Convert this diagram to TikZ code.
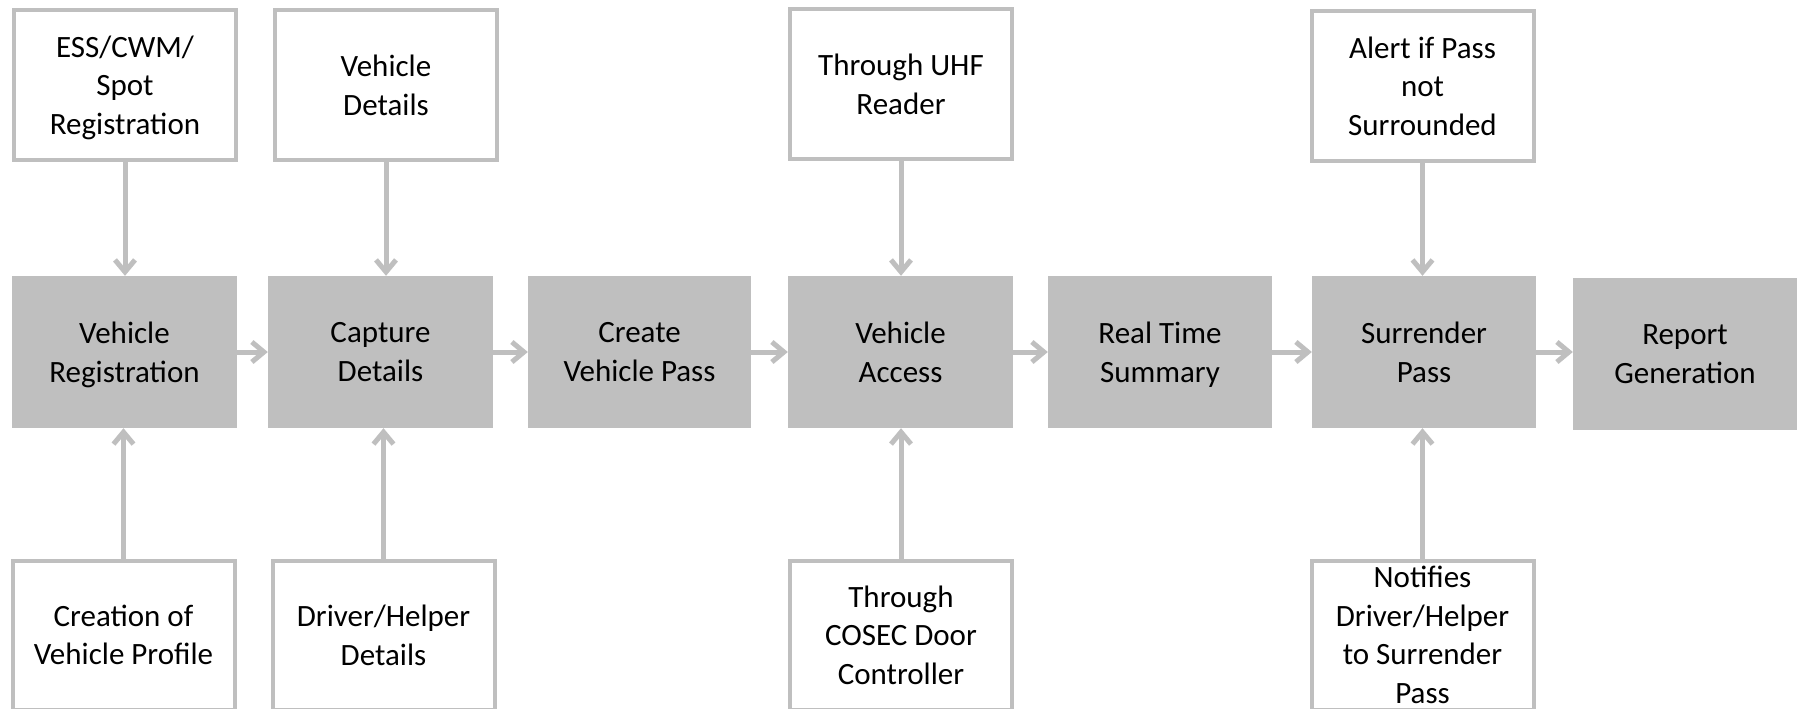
\documentclass[tikz,border=0pt]{standalone}
\usepackage{fontspec}
\setmainfont{Carlito}
\usetikzlibrary{arrows.meta}
\definecolor{boxgray}{RGB}{191,191,191}
\begin{document}
\begin{tikzpicture}[x=1pt,y=-1pt,
  every node/.style={font=\fontsize{31}{38.5}\selectfont, align=center, inner sep=0pt, text depth=0pt},
  gbox/.style={fill=boxgray, minimum width=225pt, minimum height=152pt},
  wbox/.style={draw=boxgray, line width=4pt, fill=white, minimum width=222pt, minimum height=149pt},
  conn/.style={draw=boxgray, line width=5pt, -{Straight Barb[length=12pt,width=20pt]}}]
\useasboundingbox[fill=white] (0,0) rectangle (1799,709);
% main row
\node[gbox] (vr) at (124.5,352) {Vehicle\\Registration};
\node[gbox] (cd) at (380.5,352) {Capture\\Details};
\node[gbox, minimum width=223pt] (cvp) at (639.5,352) {Create\\Vehicle Pass};
\node[gbox] (va) at (900.5,352) {Vehicle\\Access};
\node[gbox, minimum width=224pt] (rts) at (1160,352) {Real Time\\Summary};
\node[gbox, minimum width=224pt] (sp) at (1424,352) {Surrender\\Pass};
\node[gbox, minimum width=224pt] (rg) at (1685,354) {Report\\Generation};
% top row
\node[wbox] (ess) at (125,85) {ESS/CWM/\\Spot\\Registration};
\node[wbox] (vd) at (386,85) {Vehicle\\Details};
\node[wbox] (uhf) at (901,84) {Through UHF\\Reader};
\node[wbox] (alert) at (1422.5,86) {Alert if Pass\\not\\Surrounded};
% bottom row
\node[wbox] (prof) at (123.5,635) {Creation of\\Vehicle Profile};
\node[wbox] (dh) at (383.5,635) {Driver/Helper\\Details};
\node[wbox] (cosec) at (901,635) {Through\\COSEC Door\\Controller};
\node[wbox] (notif) at (1422.5,635) {Notifies\\Driver/Helper\\to Surrender\\Pass};
% vertical connectors
\draw[conn] (ess.south) -- (ess.south |- vr.north);
\draw[conn] (vd.south) -- (vd.south |- cd.north);
\draw[conn] (uhf.south) -- (uhf.south |- va.north);
\draw[conn] (alert.south) -- (alert.south |- sp.north);
\draw[conn] (prof.north) -- (prof.north |- vr.south);
\draw[conn] (dh.north) -- (dh.north |- cd.south);
\draw[conn] (cosec.north) -- (cosec.north |- va.south);
\draw[conn] (notif.north) -- (notif.north |- sp.south);
% horizontal connectors
\draw[conn] (vr.east) -- (cd.west);
\draw[conn] (cd.east) -- (cvp.west);
\draw[conn] (cvp.east) -- (va.west);
\draw[conn] (va.east) -- (rts.west);
\draw[conn] (rts.east) -- (sp.west);
\draw[conn] (sp.east) -- (sp.east -| rg.west);
\end{tikzpicture}
\end{document}
